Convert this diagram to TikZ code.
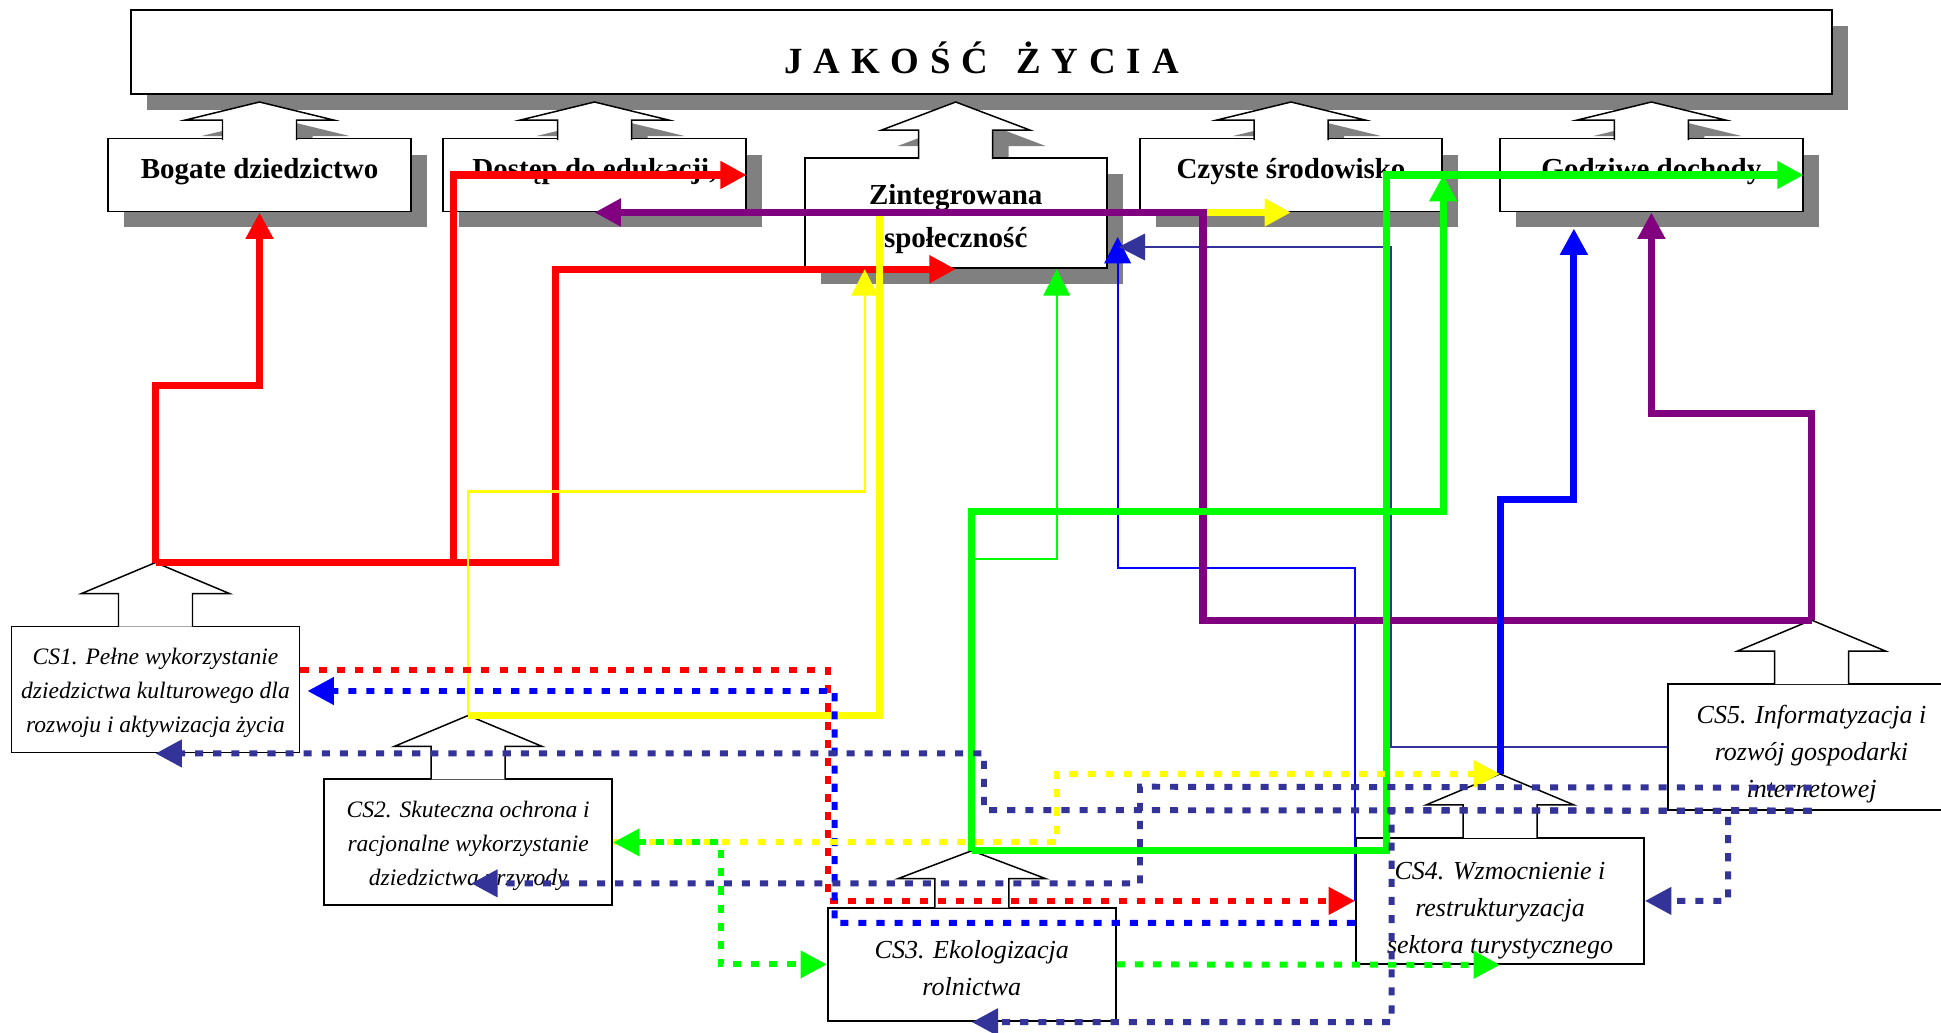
\documentclass[tikz,border=0pt]{standalone}
\usepackage{fontspec}
\setmainfont{Liberation Serif}
\usepackage{tikz}
\usetikzlibrary{arrows.meta, calc, shadows}

\definecolor{linered}{RGB}{255,0,0}
\definecolor{lineyellow}{RGB}{255,255,0}
\definecolor{linegreen}{RGB}{0,255,0}
\definecolor{lineblue}{RGB}{0,0,255}
\definecolor{linepurple}{RGB}{128,0,128}
\definecolor{linenavy}{RGB}{51,51,153}
\definecolor{shadowgray}{RGB}{128,128,128}

% hollow block arrow pointing up: tip, head height, shaft length
\newcommand{\blockup}[3]{(#1) ++(37,#2+#3) -- ++(0,-#3) -- ++(37,0) -- ++(-74,-#2) -- ++(-74,#2) -- ++(37,0) -- ++(0,#3)}
% extra room above the first line of a box
\newcommand{\topgap}[1]{\rule{0pt}{#1}}

\begin{document}
\begin{tikzpicture}[x=0.02cm, y=-0.02cm,
  >={Triangle[length=15pt, width=15pt]},
  every node/.style = {font=\fontsize{16.5}{20}\selectfont\bfseries},
  boxshadow/.style  = {general shadow={fill=shadowgray, shadow xshift=0.32cm, shadow yshift=-0.32cm}},
  basebox/.style    = {draw, line width=1.1pt, fill=white, inner sep=0pt},
  mainbox/.style    = {basebox, boxshadow, minimum width=34.02cm, minimum height=1.68cm,
                       text height=0.84cm, text depth=0pt, font=\fontsize{21}{24}\selectfont\bfseries},
  topbox/.style     = {basebox, boxshadow, minimum width=6.05cm, minimum height=1.46cm,
                       text height=0.4cm, text depth=0.25cm},
  zbox/.style       = {basebox, boxshadow, minimum width=6.04cm, minimum height=2.21cm, align=center,
                       font=\fontsize{16.5}{24.5}\selectfont\bfseries},
  csbox/.style      = {basebox, align=center, minimum width=5.76cm, minimum height=2.52cm,
                       font=\fontsize{14.8}{21}\selectfont\itshape},
  cssmall/.style    = {csbox, font=\fontsize{13.4}{19.4}\selectfont\itshape},
  hollow/.style     = {fill=white, draw, line width=0.85pt},
  thickln/.style    = {line width=4pt, ->},
  thinln/.style     = {line width=1.3pt, ->},
  dashln/.style     = {line width=3.4pt, dash pattern=on 4.6pt off 5.7pt, ->}
]
\useasboundingbox (0,0) rectangle (1941,1032);

% main box
\node[mainbox] (jakosc) at (981.5,52)
  {J\kern6.2pt A\kern6.2pt K\kern6.2pt O\kern6.2pt Ś\kern6.2pt Ć\kern16pt Ż\kern6.2pt Y\kern6.2pt C\kern6.2pt I\kern6.2pt A};

% tips of the arrows into the main box
\coordinate (t1) at (259.5,102);
\coordinate (t2) at (594.5,102);
\coordinate (t3) at (955.7,102);
\coordinate (t4) at (1291,102);
\coordinate (t5) at (1651.4,102);

\foreach \ar in {t1,t2,t4,t5}
  \fill[shadowgray] \blockup{$(\ar)+(16,16)$}{18}{20};
\fill[shadowgray] \blockup{$(t3)+(16,16)$}{28}{29};

% goals
\node[topbox] (bogate)  at (259.5,175)  {Bogate dziedzictwo};
\node[topbox] (dostep)  at (594.5,175)  {Dostęp do edukacji,};
\node[zbox]   (zintegr) at (955.7,213)  {\topgap{0.66cm}Zintegrowana\\społeczność};
\node[topbox] (czyste)  at (1291,175)   {Czyste środowisko};
\node[topbox] (godziwe) at (1651.4,175) {Godziwe dochody};

\foreach \ar in {t1,t2,t4,t5}
  \filldraw[hollow] \blockup{\ar}{18}{20};
\filldraw[hollow] \blockup{t3}{28}{29};

% strategic objectives
\node[cssmall] (cs1) at (155.5,689.5) {\topgap{0.45cm}CS1. Pełne wykorzystanie\\dziedzictwa kulturowego dla\\rozwoju i aktywizacja życia};
\node[cssmall] (cs2) at (468.2,842.4) {\topgap{0.45cm}CS2. Skuteczna ochrona i\\racjonalne wykorzystanie\\dziedzictwa przyrody};
\node[csbox, minimum height=2.27cm] (cs3) at (971.8,964.4) {\topgap{0.52cm}CS3. Ekologizacja\\rolnictwa};
\node[csbox] (cs4) at (1500,900.9)  {\topgap{0.75cm}CS4. Wzmocnienie i\\restrukturyzacja\\sektora turystycznego};
\node[csbox] (cs5) at (1811.5,747)  {\topgap{0.66cm}CS5. Informatyzacja i\\rozwój gospodarki\\internetowej};

\coordinate (j1) at ($(cs1.north)+(0,-63)$);
\coordinate (j2) at ($(cs2.north)+(0,-63)$);
\coordinate (j3) at ($(cs3.north)+(0,-56)$);
\coordinate (j4) at ($(cs4.north)+(0,-63)$);
\coordinate (j5) at ($(cs5.north)+(0,-63)$);

\foreach \ar in {j1,j2,j4,j5}
  \filldraw[hollow] \blockup{\ar}{31}{33};
\filldraw[hollow] \blockup{j3}{28}{29};

% CS1
\draw[thickln, linered] (j1) -- ++(0,-177) -| (bogate.south);
\draw[thickln, linered] (j1) -- ++(298,0) |- (dostep.east);
\draw[thickln, linered] (j1) -- ++(400,0) |- (zintegr.south);

% CS2
\draw[thickln, lineyellow] (j2) -- ++(411,0) |- (czyste.south);
\draw[thinln, lineyellow] (j2) -- ++(0,-224) -| ($(zintegr.south)+(-91,0)$);

% CS4 and CS5, thin
\draw[thinln, lineblue] (cs4.west) -- ++(0,-332.6) -| ($(zintegr.east)+(10,24)$);
\draw[thinln, linenavy] (cs5.west) -- ++(-275.7,0) |- ($(zintegr.east)+(11,34)$);

% CS5
\draw[thickln, linepurple] (j5) -- ++(0,-207) -| (godziwe.south);
\draw[thickln, linepurple] (j5) -- ++(-608.5,0) |- (dostep.south);

% CS3
\draw[thinln, linegreen] (j3) -- ++(0,-292) -| ($(zintegr.south)+(101,0)$);
\draw[thickln, linegreen] (j3) -- ++(0,-339) -| (czyste.east);
\draw[thickln, linegreen] (j3) -- ++(415,0) |- (godziwe.east);

% CS4
\draw[thickln, lineblue] (j4) -- ++(0,-274) -| ($(godziwe.south)+(-77.5,16)$);

% links between the objectives
\draw[dashln, linered] ($(cs1.east)+(0,-19.5)$) -- (828,670) |- (cs4.west);
\draw[dashln, lineblue] ($(cs4.west)+(0,22)$) -| (834.7,691) -- ($(cs1.east)+(7,1.5)$);
\draw[dashln, lineyellow] (cs2.east) -- ++(443.6,0) |- (j4);
\draw[dashln, linegreen, <->] (cs2.east) -- ++(107.5,0) |- (cs3.west);
\draw[dashln, linegreen] (cs3.east) -- (cs4.south);
\draw[dashln, linenavy] (cs5.south) -- (984,810) |- (cs1.south);
\draw[dashln, linenavy] (cs5.south) -- (1728,810) |- (cs4.east);
\draw[dashln, linenavy] (cs5.south) -- (1391.7,810) |- (cs3.south);
\draw[dashln, linenavy] ($(cs5.south)+(0,-23.3)$) -- (1140,786.7) |- ($(cs2.south)+(3,-23)$);

\end{tikzpicture}
\end{document}
